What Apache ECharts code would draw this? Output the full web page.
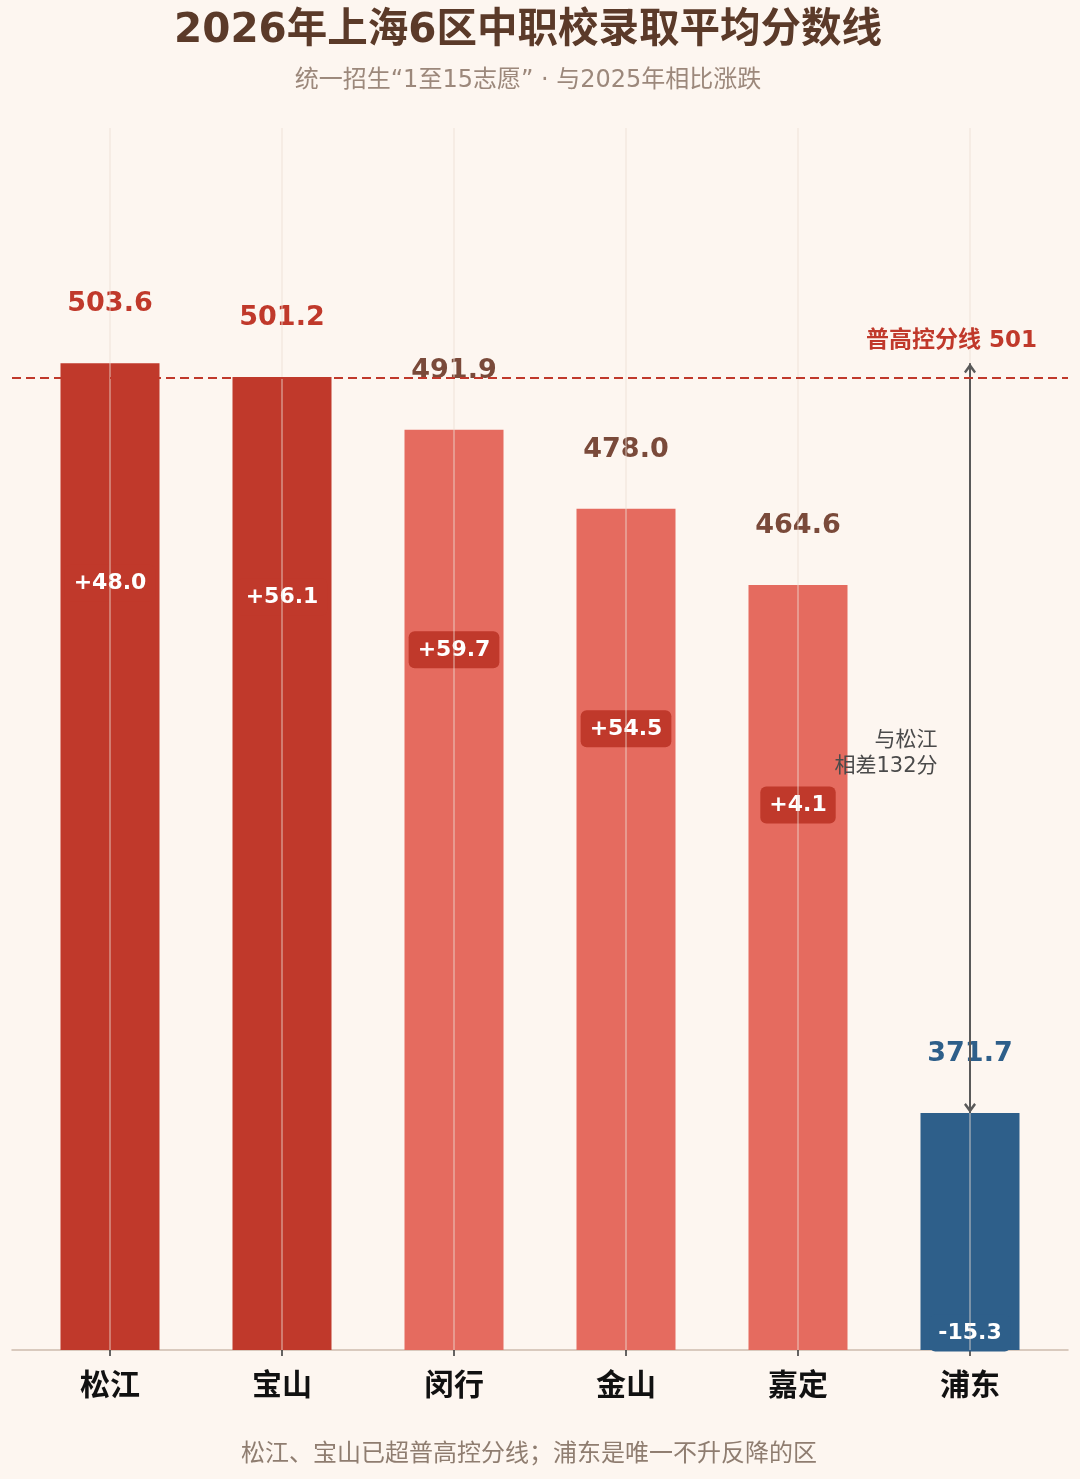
<!DOCTYPE html>
<html>
<head>
<meta charset="utf-8">
<script src="https://cdn.jsdelivr.net/npm/echarts@6/dist/echarts.min.js"></script>
<style>
html, body { margin: 0; padding: 0; background: #fdf6f0; }
#chart { width: 1080px; height: 1479px; }
</style>
</head>
<body>
<div id="chart"></div>
<script>
// 数据
var districts = ['松江', '宝山', '闵行', '金山', '嘉定', '浦东'];
var scores = [503.6, 501.2, 491.9, 478.0, 464.6, 371.7];
var changes = [48.0, 56.1, 59.7, 54.5, 4.1, -15.3];
var cutoff = 501;

var DARK = '#c0392b';
var LIGHT = '#e56b5f';
var BLUE = '#2e5f8a';
var BROWN = '#7a4a3a';
var FONT = '"DejaVu Sans", "Noto Sans CJK SC", sans-serif';
var ARROW = 'path://M6,0 L12,8 L10.2,9.6 L6,4.2 L1.8,9.6 L0,8 Z';

function barColor(i) {
    if (changes[i] < 0) return BLUE;
    return scores[i] >= cutoff ? DARK : LIGHT;
}
function valueColor(i) {
    if (changes[i] < 0) return BLUE;
    return scores[i] >= cutoff ? DARK : BROWN;
}
function signed(v) {
    return (v > 0 ? '+' : '') + v.toFixed(1);
}

var iMax = scores.indexOf(Math.max.apply(null, scores));
var iMin = scores.indexOf(Math.min.apply(null, scores));
var gap = scores[iMax] - scores[iMin];

var mainData = scores.map(function (v, i) {
    return {
        value: v,
        itemStyle: { color: barColor(i) },
        label: { color: valueColor(i) }
    };
});
var changeData = scores.map(function (v, i) {
    return {
        value: v,
        change: changes[i],
        label: { backgroundColor: changes[i] < 0 ? BLUE : DARK }
    };
});

var chart = echarts.init(document.getElementById('chart'));
var option = {
    backgroundColor: '#fdf6f0',
    animation: false,
    title: [
        {
            text: '2026年上海6区中职校录取平均分数线',
            left: 528, top: 9, textAlign: 'center', padding: 0,
            textStyle: { fontSize: 40.5, fontWeight: 'bold', color: '#5b3a29', fontFamily: FONT, lineHeight: 44 }
        },
        {
            text: '统一招生“1至15志愿” · 与2025年相比涨跌',
            left: 528, top: 67, textAlign: 'center', padding: 0,
            textStyle: { fontSize: 24, fontWeight: 'normal', color: '#9c887b', fontFamily: FONT, lineHeight: 28 }
        },
        {
            text: '松江、宝山已超普高控分线；浦东是唯一不升反降的区',
            left: 529, top: 1438, textAlign: 'center', padding: 0,
            textStyle: { fontSize: 24, fontWeight: 'normal', color: '#8f7d70', fontFamily: '"Noto Sans CJK SC"', lineHeight: 28 }
        }
    ],
    grid: [
        { left: 24, right: 24, top: 128, bottom: 129 },
        { left: 12, right: 12, top: 128, bottom: 129 }
    ],
    xAxis: [
        {
            type: 'category', gridIndex: 0, data: districts,
            axisLine: { show: false },
            axisTick: { show: true, alignWithLabel: true, length: 6, lineStyle: { color: '#333', width: 1.5 } },
            axisLabel: { margin: 19, fontSize: 30, fontWeight: 'bold', color: '#111', fontFamily: '"Noto Sans CJK SC"' },
            splitLine: { show: false }
        },
        {
            type: 'value', gridIndex: 1, min: 0, max: 1,
            axisLine: { show: true, lineStyle: { color: '#cdbcad', width: 1.5 } },
            axisTick: { show: false }, axisLabel: { show: false }, splitLine: { show: false }
        }
    ],
    yAxis: [
        { type: 'value', gridIndex: 0, min: 330, max: 545, show: false },
        { type: 'value', gridIndex: 1, min: 330, max: 545, show: false }
    ],
    series: [
        {
            type: 'bar', xAxisIndex: 0, yAxisIndex: 0, z: 2,
            barWidth: 99, silent: true,
            data: mainData,
            label: {
                show: true, position: ['50%', -59], align: 'center', verticalAlign: 'middle',
                fontSize: 27, fontWeight: 'bold', fontFamily: FONT,
                formatter: function (p) { return p.value.toFixed(1); }
            },
            markLine: {
                silent: true, symbol: 'none', label: { show: false },
                lineStyle: { color: 'rgba(236,222,212,0.55)', width: 1.5, type: 'solid' },
                data: districts.map(function (d) { return { xAxis: d }; })
            }
        },
        {
            type: 'bar', xAxisIndex: 0, yAxisIndex: 0, z: 3,
            barWidth: 99, barGap: '-100%', silent: true,
            itemStyle: { color: 'rgba(0,0,0,0)' },
            data: changeData,
            label: {
                show: true, position: ['50%', 220], align: 'center', verticalAlign: 'middle',
                fontSize: 22, fontWeight: 'bold', fontFamily: FONT, color: '#fff',
                padding: [7, 9], borderRadius: 6, lineHeight: 23,
                formatter: function (p) { return signed(p.data.change); }
            },
            markLine: {
                silent: true,
                symbol: [ARROW, ARROW],
                symbolSize: [12, 10],
                symbolOffset: [[0, 5], [0, 5]],
                label: { show: false },
                lineStyle: { color: '#595959', width: 2, type: 'solid' },
                data: [[
                    { coord: [districts[iMin], scores[iMax]] },
                    { coord: [districts[iMin], scores[iMin]] }
                ]]
            },
            markPoint: {
                silent: true, symbol: 'circle', symbolSize: 1,
                itemStyle: { color: 'rgba(0,0,0,0)' },
                label: {
                    show: true, position: 'left', distance: 32, offset: [0, 15],
                    color: '#4a4a4a', fontSize: 21, lineHeight: 26, fontFamily: FONT,
                    formatter: '与' + districts[iMax] + '\n相差' + Math.round(gap) + '分'
                },
                data: [{ coord: [districts[iMin], (scores[iMax] + scores[iMin]) / 2] }]
            }
        },
        {
            type: 'line', xAxisIndex: 1, yAxisIndex: 1, z: 4,
            data: [],
            markLine: {
                silent: true, symbol: 'none',
                lineStyle: { color: DARK, width: 2.2, type: [9, 5] },
                label: {
                    show: true, position: 'insideEndTop', distance: [31, 26],
                    color: DARK, fontSize: 23, fontWeight: 'bold', fontFamily: FONT,
                    formatter: '普高控分线 ' + cutoff
                },
                data: [{ yAxis: cutoff }]
            }
        }
    ]
};
chart.setOption(option);
</script>
</body>
</html>
